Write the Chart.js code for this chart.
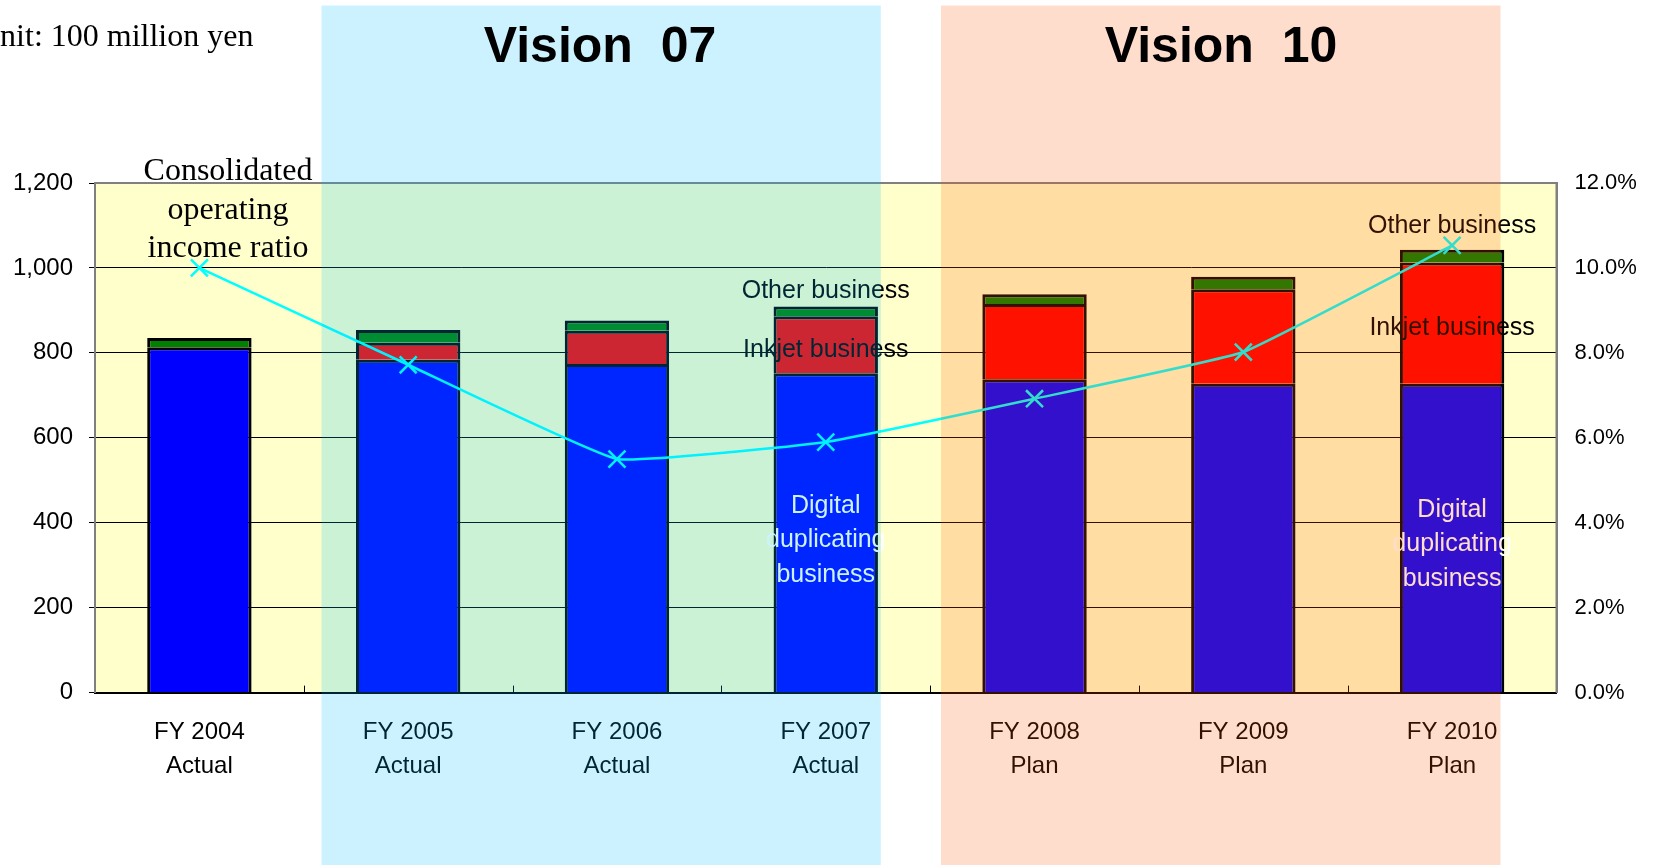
<!DOCTYPE html>
<html lang="en">
<head>
<meta charset="UTF-8">
<title>Vision 07 / Vision 10</title>
<script src="https://cdn.jsdelivr.net/npm/chart.js"></script>
<style>
  body { margin: 0; background: #fff; }
  #wrap { width: 1658px; height: 865px; }
</style>
</head>
<body>
<div id="wrap"><canvas id="grafico"></canvas></div>
<script>
// data (unit: 100 million yen, ratio in %)
const categories = [
  ['FY 2004', 'Actual'], ['FY 2005', 'Actual'], ['FY 2006', 'Actual'], ['FY 2007', 'Actual'],
  ['FY 2008', 'Plan'], ['FY 2009', 'Plan'], ['FY 2010', 'Plan']
];
const digital = [813, 784, 774, 752, 738, 727, 727];
const inkjet  = [null, 40, 78, 134, 177, 223, 286];
const other   = [22, 30, 24, 23, 23, 29, 30];
const ratio   = [10.0, 7.72, 5.5, 5.9, 6.92, 8.02, 10.53];

const GOTHIC = "'Liberation Sans', Arial, sans-serif";
const SERIF = "'Liberation Serif', 'Times New Roman', serif";

// background, text boxes and the two "Vision" bands
const deco = {
  id: 'deco',
  beforeDraw(c) {
    const a = c.chartArea, ctx = c.ctx;
    ctx.save();
    ctx.fillStyle = '#ffffff';
    ctx.fillRect(0, 0, c.width, c.height);
    ctx.fillStyle = '#FFFFCC';
    ctx.fillRect(a.left, a.top, a.right - a.left, a.bottom - a.top);
    ctx.restore();
  },
  afterDatasetsDraw(c) {
    const ctx = c.ctx, x = c.scales.x;
    ctx.save();
    ctx.textAlign = 'center';
    ctx.textBaseline = 'middle';

    // segment labels
    ctx.font = '25px ' + GOTHIC;
    ctx.fillStyle = '#000';
    let cx = x.getPixelForValue(3);
    ctx.fillText('Other business', cx, 291);
    ctx.fillText('Inkjet business', cx, 350);
    ctx.fillStyle = '#fff';
    ['Digital', 'duplicating', 'business'].forEach((t, i) => ctx.fillText(t, cx, 506 + i * 34.5));

    cx = x.getPixelForValue(6);
    ctx.fillStyle = '#000';
    ctx.fillText('Other business', cx, 226);
    ctx.fillText('Inkjet business', cx, 328);
    ctx.fillStyle = '#fff';
    ['Digital', 'duplicating', 'business'].forEach((t, i) => ctx.fillText(t, cx, 510 + i * 34.5));

    // line caption
    ctx.fillStyle = '#000';
    ctx.font = '32px ' + SERIF;
    ['Consolidated', 'operating', 'income ratio'].forEach((t, i) => ctx.fillText(t, 228, 172 + i * 38.5));

    // unit
    ctx.textAlign = 'left';
    ctx.font = '32px ' + SERIF;
    ctx.fillText('Unit: 100 million yen', -23, 38);

    // small inner ticks on the category axis
    ctx.strokeStyle = '#000';
    ctx.lineWidth = 1;
    for (let i = 0; i < categories.length - 1; i++) {
      const px = Math.round(x.getPixelForValue(i + 0.5)) + 0.5;
      ctx.beginPath();
      ctx.moveTo(px, c.chartArea.bottom);
      ctx.lineTo(px, c.chartArea.bottom - 7);
      ctx.stroke();
    }
    ctx.restore();
  },
  afterDraw(c) {
    const ctx = c.ctx, a = c.chartArea;
    ctx.save();
    // plot frame
    ctx.strokeStyle = '#808080';
    ctx.lineWidth = 2;
    ctx.beginPath();
    ctx.moveTo(a.left, a.bottom);
    ctx.lineTo(a.left, a.top);
    ctx.lineTo(a.right, a.top);
    ctx.lineTo(a.right, a.bottom);
    ctx.stroke();

    // translucent bands
    ctx.fillStyle = 'rgba(0, 190, 255, 0.2)';
    ctx.fillRect(321.5, 5.5, 559.3, 860);
    ctx.fillStyle = 'rgba(255, 85, 0, 0.2)';
    ctx.fillRect(941, 5.5, 559.5, 860);

    ctx.fillStyle = '#000';
    ctx.font = 'bold 50px ' + GOTHIC;
    ctx.textAlign = 'center';
    ctx.textBaseline = 'middle';
    ctx.fillText('Vision  07', 600, 48);
    ctx.fillText('Vision  10', 1221, 48);
    ctx.restore();
  }
};

new Chart(document.getElementById('grafico'), {
  type: 'bar',
  data: {
    labels: categories,
    datasets: [
      {
        label: 'Consolidated operating income ratio',
        type: 'line',
        data: ratio,
        yAxisID: 'y1',
        borderColor: '#00FFFF',
        borderWidth: 2.5,
        tension: 0.1,
        pointStyle: 'crossRot',
        pointRadius: 12,
        pointBorderWidth: 2.5,
        pointBorderColor: '#00FFFF',
        order: 0
      },
      {
        label: 'Digital duplicating business',
        data: digital,
        backgroundColor: '#0000FF',
        borderColor: '#000',
        borderWidth: 3,
        order: 1
      },
      {
        label: 'Inkjet business',
        data: inkjet,
        backgroundColor: '#FF0000',
        borderColor: '#000',
        borderWidth: 3,
        order: 1
      },
      {
        label: 'Other business',
        data: other,
        backgroundColor: '#008000',
        borderColor: '#000',
        borderWidth: 3,
        order: 1
      }
    ]
  },
  options: {
    responsive: true,
    maintainAspectRatio: false,
    animation: false,
    categoryPercentage: 1,
    barPercentage: 0.5,
    layout: { padding: { top: 183, left: 0, right: 0, bottom: 0 } },
    plugins: { legend: { display: false }, tooltip: { enabled: false } },
    scales: {
      x: {
        stacked: true,
        grid: { display: false },
        border: { color: '#000', width: 2 },
        ticks: {
          color: '#000',
          font: { family: GOTHIC, size: 24, lineHeight: 1.4 },
          padding: 15,
          maxRotation: 0
        },
        afterFit(s) { s.height = 172.4; }
      },
      y: {
        stacked: true,
        min: 0, max: 1200,
        ticks: {
          stepSize: 200,
          color: '#000',
          font: { family: GOTHIC, size: 24 },
          padding: 16,
          callback: v => v.toLocaleString('en-US')
        },
        grid: { color: '#000', lineWidth: 1, tickLength: 6 },
        border: { color: '#808080', width: 2 },
        afterFit(s) { s.width = 95; }
      },
      y1: {
        position: 'right',
        min: 0, max: 12,
        ticks: {
          stepSize: 2,
          color: '#000',
          font: { family: GOTHIC, size: 22 },
          padding: 18,
          callback: v => v.toFixed(1) + '%'
        },
        grid: { drawOnChartArea: false, drawTicks: false },
        border: { color: '#808080', width: 2 },
        afterFit(s) { s.width = 101.5; }
      }
    }
  },
  plugins: [deco]
});
</script>
</body>
</html>
